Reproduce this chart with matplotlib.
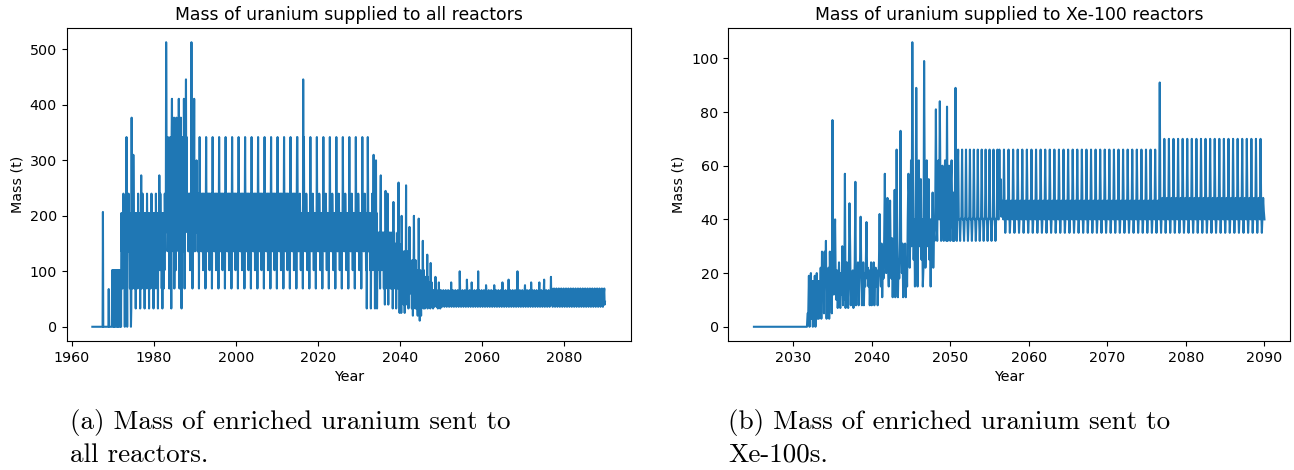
import matplotlib
matplotlib.use("Agg")
import matplotlib.pyplot as plt
import numpy as np

# ---- all reactors: monthly values, piecewise repeating refuelling patterns ----
all_start = 1965.0
all_seg_years = [1965.0, 1969.7, 1972.0, 1974.5, 1983.0, 1988.0, 2015.0, 2031.5, 2034.0,
                 2036.0, 2038.0, 2040.0, 2042.0, 2044.0, 2046.0, 2048.0, 2050.0, 2077.0, 2090.01]
all_seg_patterns = [
    [0],
    [0, 102, 69, 102, 0, 102, 102, 0, 69, 102],
    [0, 205, 136, 170, 69, 205, 102, 0, 205, 170, 136],
    [33, 205, 136, 170, 69, 205, 102, 240, 170, 136, 205, 69, 170],
    [33, 342, 205, 240, 170, 342, 136, 240, 205, 69, 240, 170, 342, 102, 205],
    [342, 205, 240, 170, 205, 136, 240, 205, 170, 240, 102, 205, 240, 136, 205, 170, 240, 69, 205],
    [342, 205, 170, 205, 136, 205, 170, 240, 205, 170, 102, 205, 136, 205, 170, 205, 69, 205, 170],
    [205, 136, 170, 102, 205, 33, 136, 170, 102, 240, 136, 170],
    [170, 102, 136, 69, 205, 33, 102, 170, 136, 120, 150],
    [136, 69, 170, 102, 40, 136, 102, 170, 120, 90],
    [136, 69, 150, 33, 102, 136, 69, 170, 110, 90],
    [102, 40, 136, 69, 25, 102, 136, 69, 120, 80],
    [102, 33, 120, 69, 20, 90, 110, 60, 100, 70],
    [80, 33, 102, 50, 20, 90, 60, 40, 85, 55],
    [69, 33, 90, 40, 36, 80, 50, 66],
    [60, 33, 66, 40, 36, 55, 45],
    [66, 40, 45, 36, 50, 40, 60],
    [69, 40, 45, 36, 55, 40, 62],
]
all_spike_years = [1967.6, 1969.0, 1972.6, 1973.3, 1973.8, 1974.6, 1975.0, 1976.9, 1981.3,
                   1983.0, 1984.4, 1984.9, 1985.5, 1986.1, 1986.6, 1987.3, 1987.8, 1989.2,
                   1989.8, 1990.4, 2016.4, 2032.2, 2033.6, 2034.2, 2035.3, 2036.5, 2037.0,
                   2038.4, 2039.7, 2039.9, 2040.4, 2041.5, 2042.3, 2043.4, 2044.6, 2044.8,
                   2045.6, 2046.7, 2047.5, 2048.7, 2049.5, 2052.5, 2054.6, 2056.3, 2057.5,
                   2059.1, 2061.0, 2063.0, 2065.0, 2066.5, 2068.7, 2070.5, 2072.0, 2074.0,
                   2075.2, 2076.8]
all_spike_mass = [207, 68, 240, 342, 240, 377, 310, 273, 273,
                  513, 411, 377, 377, 411, 377, 411, 446, 513,
                  411, 300, 446, 342, 310, 300, 273, 245, 240,
                  225, 260, 25, 200, 255, 180, 200, 195, 11,
                  155, 130, 115, 90, 80, 80, 100, 85, 80,
                  100, 75, 75, 80, 85, 100, 75, 80, 80,
                  85, 90]

# ---- Xe-100 reactors ----
xe_start = 2025.0
xe_seg_years = [2025.0, 2031.75, 2033.2, 2035.0, 2038.0, 2041.0, 2044.5, 2048.0, 2051.0,
                2056.2, 2076.6, 2090.01]
xe_seg_patterns = [
    [0],
    [0, 17, 5, 19, 0, 12, 20, 3, 17],
    [3, 17, 8, 22, 3, 28, 12, 20, 5, 29, 15, 17],
    [7, 20, 12, 30, 8, 16, 10, 21, 7, 14, 24, 9],
    [8, 20, 15, 24, 8, 18, 22, 15, 21, 8, 17, 24],
    [11, 22, 15, 31, 11, 25, 18, 33, 11, 28, 20, 31],
    [15, 40, 29, 50, 22, 35, 62, 30, 45, 55, 25, 40],
    [32, 45, 60, 40, 32, 55, 62, 40, 32, 50],
    [66, 40, 40, 32, 40, 41],
    [66, 44, 35, 41, 47, 42, 40],
    [70, 44, 35, 42, 48, 43, 40],
]
xe_spike_years = [2031.8, 2034.0, 2034.2, 2035.0, 2035.3, 2036.6, 2037.2, 2037.9, 2038.6,
                  2039.3, 2041.0, 2041.7, 2042.0, 2042.3, 2042.9, 2043.2, 2043.7, 2044.7,
                  2045.2, 2045.7, 2045.8, 2046.6, 2046.7, 2048.2, 2048.7, 2049.6, 2050.7,
                  2056.4, 2076.7]
xe_spike_mass = [5, 28, 32, 77, 40, 57, 46, 54, 41,
                 39, 42, 57, 48, 47, 51, 66, 73, 57,
                 106, 89, 15, 22, 99, 81, 84, 82, 89,
                 55, 91]


def build(start, seg_years, seg_patterns, spike_years, spike_mass):
    end = seg_years[-1]
    t = start + np.arange(int(round((end - start) * 12)) + 1) / 12.0
    m = np.zeros_like(t)
    for a, b, pat in zip(seg_years[:-1], seg_years[1:], seg_patterns):
        idx = (t >= a) & (t < b)
        m[idx] = np.resize(pat, idx.sum())
    for yr, val in zip(spike_years, spike_mass):
        m[np.argmin(np.abs(t - yr))] = val
    return t, m


t_all, m_all = build(all_start, all_seg_years, all_seg_patterns, all_spike_years, all_spike_mass)
t_xe, m_xe = build(xe_start, xe_seg_years, xe_seg_patterns, xe_spike_years, xe_spike_mass)

plt.rcParams["font.size"] = 10.3

W, H = 1294, 470
fig = plt.figure(figsize=(W / 100, H / 100), dpi=100)

ax1 = fig.add_axes([66.7 / W, (H - 341) / H, (630.6 - 66.7) / W, (341 - 28) / H])
ax1.plot(t_all, m_all, color="#1f77b4", lw=1.5)
ax1.set_title("Mass of uranium supplied to all reactors", fontsize=12.4)
ax1.set_xlabel("Year")
ax1.set_ylabel("Mass (t)")

ax2 = fig.add_axes([728.4 / W, (H - 341) / H, (1290 - 728.4) / W, (341 - 28) / H])
ax2.plot(t_xe, m_xe, color="#1f77b4", lw=1.5)
ax2.set_title("Mass of uranium supplied to Xe-100 reactors", fontsize=12.4)
ax2.set_xlabel("Year")
ax2.set_ylabel("Mass (t)")

cap = dict(family="cmr10", fontsize=19.5, va="center", ha="left")
fig.text(70 / W, 1 - 423 / H, "(a) Mass of enriched uranium sent to", **cap)
fig.text(70 / W, 1 - 455 / H, "all reactors.", **cap)
fig.text(728 / W, 1 - 423 / H, "(b) Mass of enriched uranium sent to", **cap)
fig.text(728 / W, 1 - 455 / H, "Xe-100s.", **cap)

fig.savefig("out.png", dpi=100)
